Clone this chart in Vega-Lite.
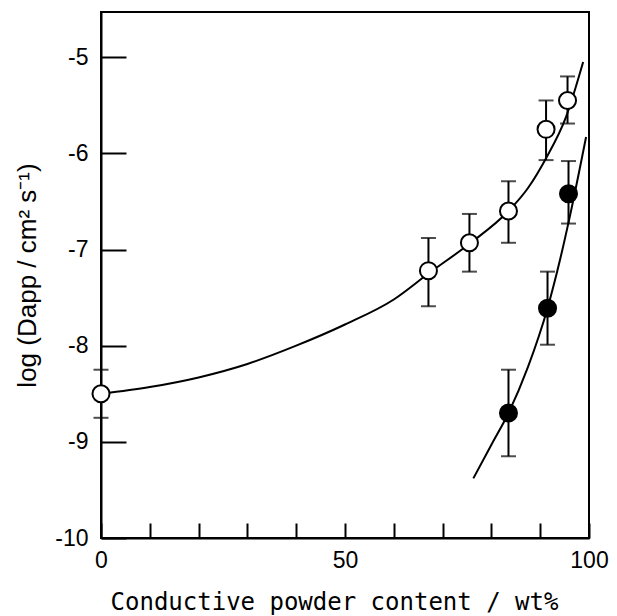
{
  "$schema": "https://vega.github.io/schema/vega-lite/v6.json",
  "autosize": "none",
  "padding": {"left": 101, "top": 12, "right": 28, "bottom": 78},
  "width": 488,
  "height": 526,
  "background": "white",
  "config": {
    "view": {"stroke": "black", "strokeWidth": 2},
    "axis": {"grid": false, "domainColor": "black", "domainWidth": 2, "tickColor": "black", "tickWidth": 2, "labelColor": "black", "titleColor": "black", "labelFont": "Liberation Sans", "labelFontSize": 23, "labelFontWeight": "normal"}
  },
  "datasets": {
    "pts": [
      {"series": "open", "x": 0, "y": -8.5, "hi": -8.25, "lo": -8.75},
      {"series": "open", "x": 67.1, "y": -7.22, "hi": -6.88, "lo": -7.59},
      {"series": "open", "x": 75.5, "y": -6.93, "hi": -6.63, "lo": -7.23},
      {"series": "open", "x": 83.5, "y": -6.6, "hi": -6.29, "lo": -6.93},
      {"series": "open", "x": 91.2, "y": -5.75, "hi": -5.45, "lo": -6.07},
      {"series": "open", "x": 95.6, "y": -5.45, "hi": -5.2, "lo": -5.69},
      {"series": "filled", "x": 83.5, "y": -8.7, "hi": -8.25, "lo": -9.15},
      {"series": "filled", "x": 91.5, "y": -7.61, "hi": -7.23, "lo": -7.99},
      {"series": "filled", "x": 95.8, "y": -6.42, "hi": -6.08, "lo": -6.73}
    ],
    "curves": [
      {"series": "open", "x": 0, "y": -8.5},
      {"series": "open", "x": 10, "y": -8.43},
      {"series": "open", "x": 20, "y": -8.33},
      {"series": "open", "x": 30, "y": -8.19},
      {"series": "open", "x": 40, "y": -8.0},
      {"series": "open", "x": 50, "y": -7.78},
      {"series": "open", "x": 60, "y": -7.52},
      {"series": "open", "x": 67.1, "y": -7.25},
      {"series": "open", "x": 75.5, "y": -6.94},
      {"series": "open", "x": 83.5, "y": -6.6},
      {"series": "open", "x": 87.5, "y": -6.36},
      {"series": "open", "x": 91.2, "y": -6.05},
      {"series": "open", "x": 95.3, "y": -5.62},
      {"series": "open", "x": 98.8, "y": -5.05},
      {"series": "filled", "x": 76.3, "y": -9.38},
      {"series": "filled", "x": 80, "y": -9.03},
      {"series": "filled", "x": 83.5, "y": -8.7},
      {"series": "filled", "x": 87.5, "y": -8.22},
      {"series": "filled", "x": 91.5, "y": -7.61},
      {"series": "filled", "x": 94, "y": -7.12},
      {"series": "filled", "x": 96.1, "y": -6.65},
      {"series": "filled", "x": 99.4, "y": -5.83}
    ]
  },
  "layer": [
    {
      "data": {"name": "curves"},
      "mark": {"type": "line", "color": "black", "strokeWidth": 2, "interpolate": "monotone"},
      "encoding": {
        "x": {"field": "x", "type": "quantitative", "scale": {"domain": [0, 100], "nice": false},
          "axis": {"values": [0, 10, 20, 30, 40, 50, 60, 70, 80, 90, 100], "labelExpr": "datum.value % 50 == 0 ? datum.label : ''", "tickSize": -15, "labelPadding": 26, "labelFlush": false,
            "title": "Conductive powder content / wt%", "titleFont": "DejaVu Sans Mono", "titleFontSize": 24, "titleFontWeight": "normal", "titleX": 233, "titleY": 71, "titleBaseline": "alphabetic", "titleAlign": "center"}},
        "y": {"field": "y", "type": "quantitative", "scale": {"domain": [-10, -4.53], "nice": false, "zero": false},
          "axis": {"values": [-10, -9, -8, -7, -6, -5], "labelExpr": "replace(format(datum.value, '.0f'), '−', '-')", "tickSize": -25, "labelPadding": 38, "labelFlush": false,
            "title": "log (Dapp / cm² s⁻¹)", "titleFont": "Liberation Sans", "titleFontSize": 26, "titleFontWeight": "normal", "titleX": -74, "titleY": 263, "titleBaseline": "middle", "titleAlign": "center", "titleAngle": -90}},
        "detail": {"field": "series"}
      }
    },
    {
      "data": {"name": "pts"},
      "mark": {"type": "rule", "color": "black", "strokeWidth": 2},
      "encoding": {
        "x": {"field": "x", "type": "quantitative"},
        "y": {"field": "lo", "type": "quantitative"},
        "y2": {"field": "hi"}
      }
    },
    {
      "data": {"name": "pts"},
      "mark": {"type": "tick", "orient": "horizontal", "color": "black", "thickness": 2, "size": 15},
      "encoding": {
        "x": {"field": "x", "type": "quantitative"},
        "y": {"field": "lo", "type": "quantitative"}
      }
    },
    {
      "data": {"name": "pts"},
      "mark": {"type": "tick", "orient": "horizontal", "color": "black", "thickness": 2, "size": 15},
      "encoding": {
        "x": {"field": "x", "type": "quantitative"},
        "y": {"field": "hi", "type": "quantitative"}
      }
    },
    {
      "data": {"name": "pts"},
      "mark": {"type": "point", "shape": "circle", "size": 290, "strokeWidth": 2, "stroke": "black", "opacity": 1},
      "encoding": {
        "x": {"field": "x", "type": "quantitative"},
        "y": {"field": "y", "type": "quantitative"},
        "fill": {"field": "series", "type": "nominal", "scale": {"domain": ["open", "filled"], "range": ["white", "black"]}, "legend": null}
      }
    }
  ]
}
